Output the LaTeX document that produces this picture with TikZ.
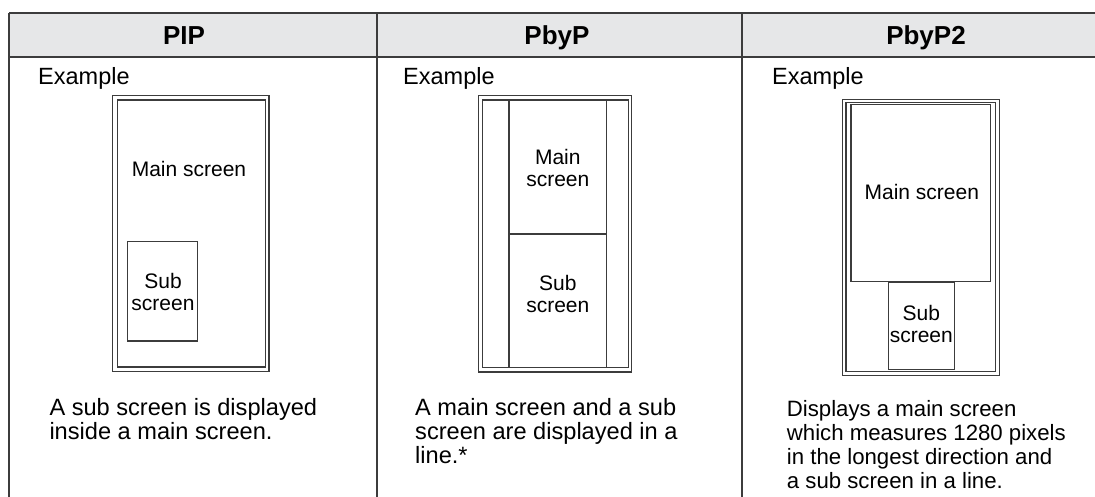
\documentclass[tikz,border=0pt]{standalone}
\usepackage{fontspec}
\setmainfont{Liberation Sans}
\definecolor{hdrgray}{HTML}{E6E7E8}
\definecolor{linegray}{HTML}{3C3C3C}
\tikzset{
  tblline/.style={draw=linegray, line width=1.3pt},
  frameline/.style={draw=linegray, line width=1.2pt},
  hdrtext/.style={anchor=base, inner sep=0pt, font=\fontsize{26}{28}\selectfont\bfseries},
  extext/.style={anchor=base west, inner sep=0pt, font=\fontsize{23.5}{24}\selectfont},
  desctext/.style={anchor=base west, inner sep=0pt, font=\fontsize{23.6}{24}\selectfont},
  desctextsmall/.style={anchor=base west, inner sep=0pt, font=\fontsize{22.2}{24}\selectfont},
  lbltext/.style={anchor=center, inner sep=0pt, align=center, font=\fontsize{21}{21.7}\selectfont},
}
\begin{document}
\begin{tikzpicture}[x=1pt,y=-1pt]
\useasboundingbox (0,0) rectangle (1095,497);
% header
\fill[hdrgray] (9,13) rectangle (1095,57);
\draw[tblline] (9,13) -- (1095,13);
\draw[tblline] (9,57) -- (1095,57);
\draw[tblline] (9,13) -- (9,497);
\draw[tblline] (377,13) -- (377,497);
\draw[tblline] (742,13) -- (742,497);
\node[hdrtext] (h1) at (184,45) {PIP};
\node[hdrtext] (h2) at (557,45) {PbyP};
\node[hdrtext] (h3) at (926,45) {PbyP2};
% Example labels
\node[extext] (e1) at (38,85) {Example};
\node[extext] (e2) at (403,85) {Example};
\node[extext] (e3) at (772,85) {Example};
% PIP frame
\draw[frameline] (112.7,95.7) rectangle (269,371.7);
\draw[frameline] (117.3,100) rectangle (265.7,367);
\draw[frameline] (127.7,241.3) rectangle (197.7,341);
\node[lbltext] (m1) at (189,169) {Main screen};
\node[lbltext] (s1) at (163,291.7) {Sub\\screen};
% PbyP frame
\draw[frameline] (478.7,95.7) rectangle (631.7,372);
\draw[frameline] (482.3,100) rectangle (628.3,367.3);
\draw[frameline] (509,100) -- (509,367.3);
\draw[frameline] (606.7,100) -- (606.7,367.3);
\draw[frameline] (509,234) -- (606.7,234);
\node[lbltext] (m2) at (557.8,167.8) {Main\\screen};
\node[lbltext] (s2) at (557.8,293.8) {Sub\\screen};
% PbyP2 frame
\draw[frameline] (842.7,99.3) rectangle (999.3,375.3);
\draw[frameline] (846,102.7) rectangle (995.5,371.5);
\draw[frameline] (851,104.3) rectangle (990.7,281.3);
\draw[frameline] (888.5,282.7) rectangle (954.2,369.3);
\node[lbltext] (m3) at (921.8,191.7) {Main screen};
\node[lbltext] (s3) at (921.3,324.2) {Sub\\screen};
% descriptions
\node[desctext] (d1a) at (49.3,415) {A sub screen is displayed};
\node[desctext] (d1b) at (49.3,439) {inside a main screen.};
\node[desctext] (d2a) at (415,415) {A main screen and a sub};
\node[desctext] (d2b) at (415,439) {screen are displayed in a};
\node[desctext] (d2c) at (415,463) {line.*};
\node[desctextsmall] (d3a) at (786.7,416) {Displays a main screen};
\node[desctextsmall] (d3b) at (786.7,440.3) {which measures 1280 pixels};
\node[desctextsmall] (d3c) at (786.7,464.5) {in the longest direction and};
\node[desctextsmall] (d3d) at (786.7,488.5) {a sub screen in a line.};
\end{tikzpicture}
\end{document}
